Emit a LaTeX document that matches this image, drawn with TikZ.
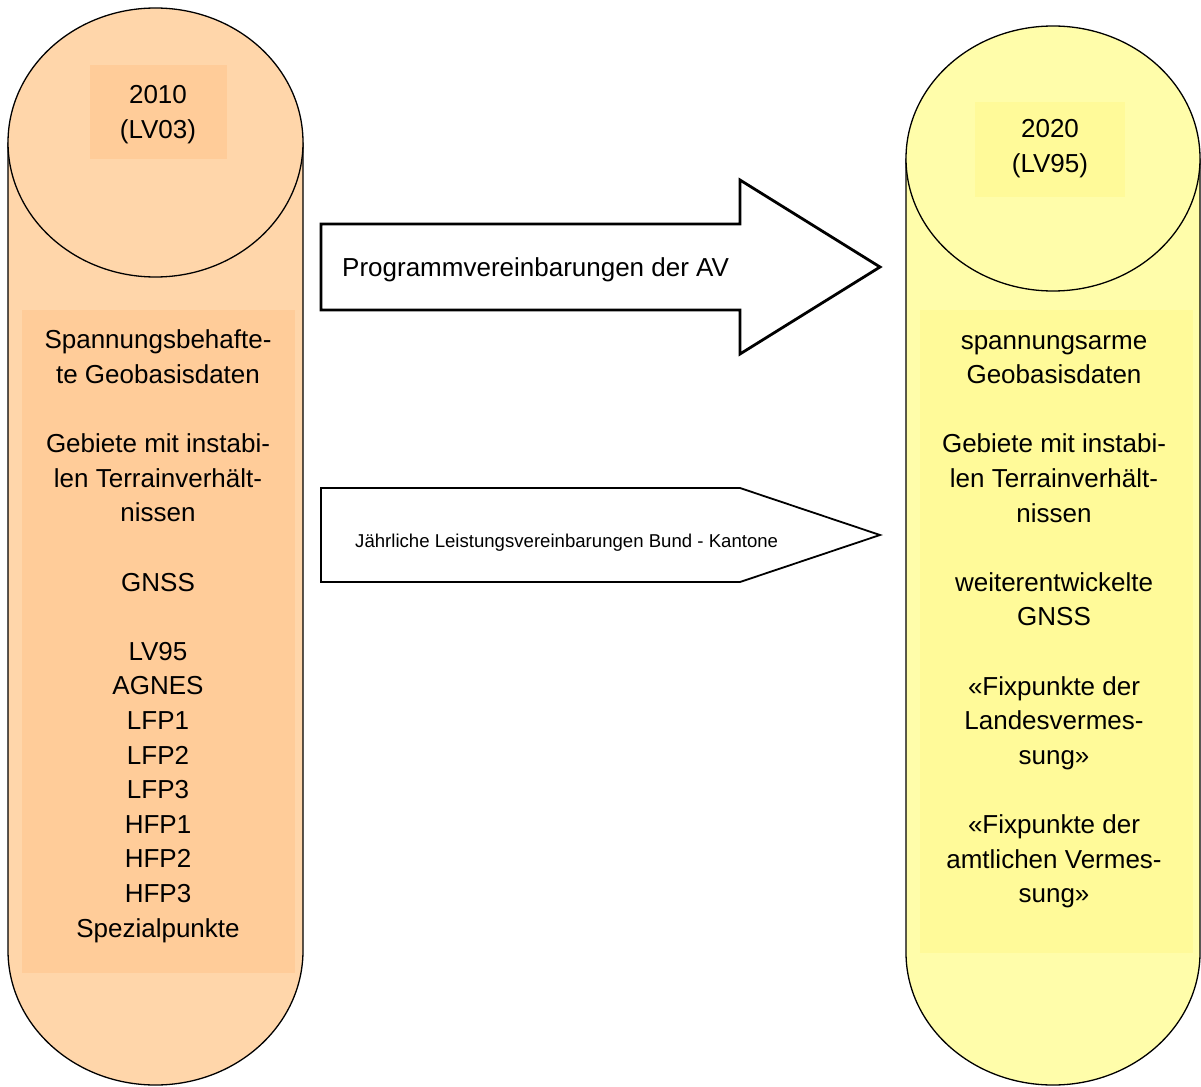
\documentclass[tikz,border=0pt]{standalone}
\usepackage{fontspec}
\setmainfont{Liberation Sans}

\definecolor{oldbody}{RGB}{255,214,170}
\definecolor{oldinner}{RGB}{255,204,153}
\definecolor{newbody}{RGB}{255,253,170}
\definecolor{newinner}{RGB}{255,250,153}

\begin{document}
\begin{tikzpicture}[
    x = 1pt,
    y = -1pt,
    outline/.style = {draw=black, line width=1.3pt},
    bigarrow/.style = {draw=black, line width=2.8pt, fill=white, line join=miter},
    smallarrow/.style = {draw=black, line width=1.8pt, fill=white, line join=miter},
    txt/.style = {align=center, inner sep=0pt, anchor=base,
              font=\fontsize{26}{34.6}\selectfont},
    ]

\useasboundingbox (0,0) rectangle (1201,1086);

% 2010 cylinder
\fill[oldbody] (8,142.5) -- (8,950.5)
    arc[start angle=180, end angle=360, x radius=147.5pt, y radius=134.5pt]
    -- (303,142.5) -- cycle;
\draw[outline] (8,142.5) -- (8,950.5)
    arc[start angle=180, end angle=360, x radius=147.5pt, y radius=134.5pt]
    -- (303,142.5);
\draw[outline, fill=oldbody] (155.5,142.5) ellipse [x radius=147.5pt, y radius=134.5pt];
\fill[oldinner] (90,65) rectangle (227,159);
\fill[oldinner] (22,310) rectangle (295,973);

% base anchor sits on the last line
\node[txt] (oldyear) at (158,138.6) {2010\\(LV03)};
\node[txt] (oldlist) at (158,937) {Spannungsbehafte-\\te Geobasisdaten\\[34.6pt]
    Gebiete mit instabi-\\len Terrainverhält-\\nissen\\[34.6pt]
    GNSS\\[34.6pt]
    LV95\\AGNES\\LFP1\\LFP2\\LFP3\\HFP1\\HFP2\\HFP3\\Spezialpunkte};

% 2020 cylinder
\fill[newbody] (906,158.5) -- (906,952.5)
    arc[start angle=180, end angle=360, x radius=147pt, y radius=132.5pt]
    -- (1200,158.5) -- cycle;
\draw[outline] (906,158.5) -- (906,952.5)
    arc[start angle=180, end angle=360, x radius=147pt, y radius=132.5pt]
    -- (1200,158.5);
\draw[outline, fill=newbody] (1053,158.5) ellipse [x radius=147pt, y radius=132.5pt];
\fill[newinner] (975,102) rectangle (1125,197);
\fill[newinner] (920,310) rectangle (1193,953);

\node[txt] (newyear) at (1050,172.6) {2020\\(LV95)};
\node[txt] (newlist) at (1054,902.6) {spannungsarme\\Geobasisdaten\\[34.6pt]
    Gebiete mit instabi-\\len Terrainverhält-\\nissen\\[34.6pt]
    weiterentwickelte\\GNSS\\[34.6pt]
    «Fixpunkte der\\Landesvermes-\\sung»\\[34.6pt]
    «Fixpunkte der\\amtlichen Vermes-\\sung»};

% arrows
\draw[bigarrow] (321,224) -- (740,224) -- (740,180) -- (880,267)
    -- (740,354) -- (740,310) -- (321,310) -- cycle;
\node[txt, anchor=base west] (avtext) at (342,276) {Programmvereinbarungen der AV};

\draw[smallarrow] (321,488) -- (740,488) -- (880,535) -- (740,582)
    -- (321,582) -- cycle;
\node[txt, anchor=base west, font=\fontsize{18.6}{22}\selectfont] (lvtext) at (355,547)
    {Jährliche Leistungsvereinbarungen Bund - Kantone};

\end{tikzpicture}
\end{document}
